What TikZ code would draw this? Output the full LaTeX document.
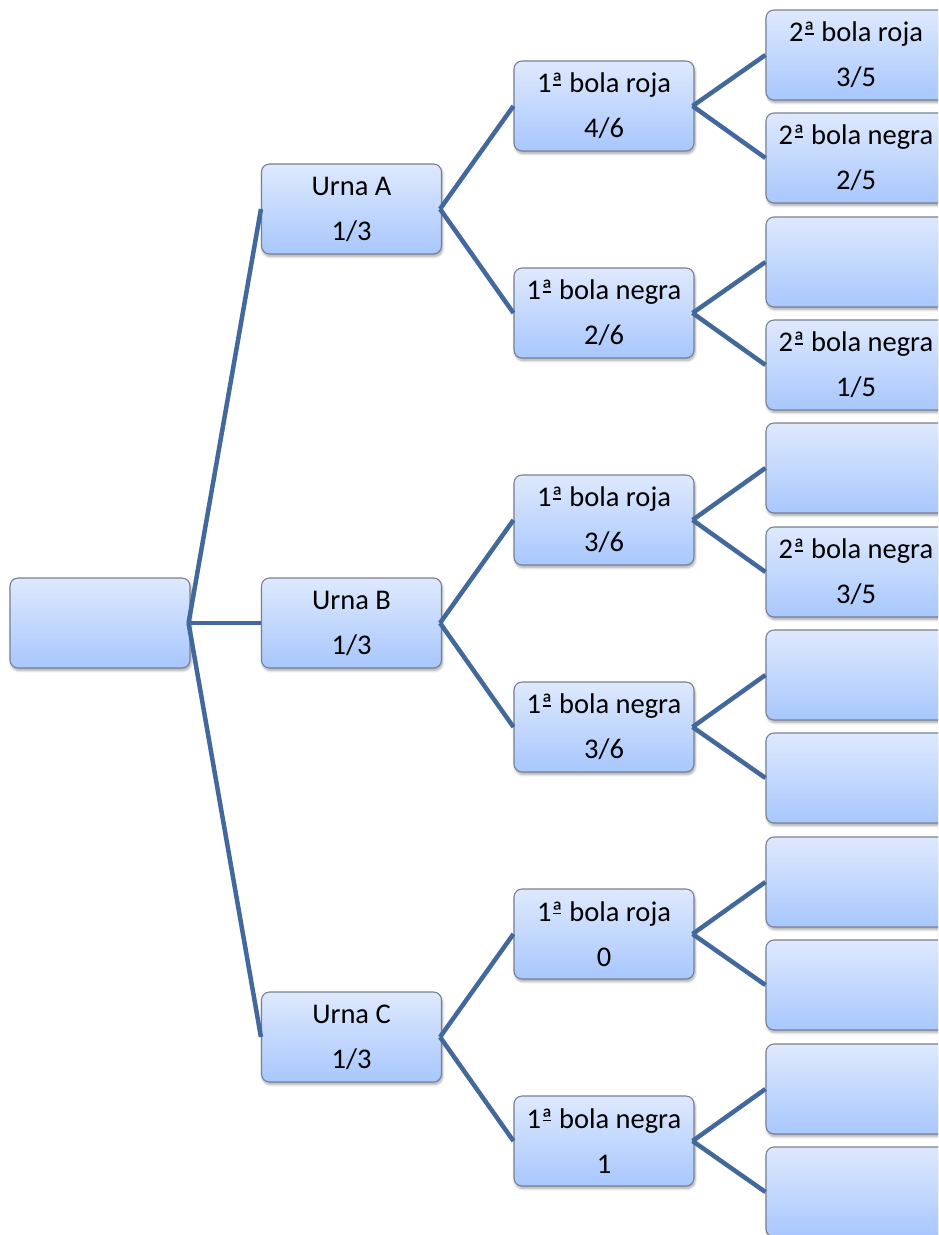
\documentclass[tikz,border=0pt]{standalone}
\usepackage{fontspec}
\setmainfont{Carlito}
\usetikzlibrary{shadows.blur}
\definecolor{topc}{RGB}{222,233,253}
\definecolor{botc}{RGB}{168,199,253}
\definecolor{edgec}{RGB}{120,128,145}
\definecolor{linec}{RGB}{66,104,156}
\newcommand\ordA{\leavevmode\setbox0\hbox{ª}\rlap{\hbox to\wd0{\hss\raisebox{0.25em}{\rule{0.75\wd0}{0.05em}}\hss}}\box0}
\tikzset{
  box/.style={rectangle, rounded corners=8pt, draw=edgec, line width=1.1pt,
    top color=topc, bottom color=botc, minimum width=180pt, minimum height=90pt,
    inner sep=0pt, align=center, font=\fontsize{28.5}{45}\selectfont,
    blur shadow={shadow xshift=1pt, shadow yshift=-2.5pt, shadow blur steps=6, shadow blur radius=2.5pt, shadow opacity=35}},
  conn/.style={draw=linec, line width=4.5pt}
}
\begin{document}
\begin{tikzpicture}[x=1pt,y=-1pt]
\useasboundingbox (0,0) rectangle (938,1235);
\clip (0,0) rectangle (938,1235);
% root
\node[box] (r) at (100,623) {};
% level 1
\node[box] (a) at (351.5,209) {Urna A\\1/3};
\node[box] (b) at (351.5,623) {Urna B\\1/3};
\node[box] (c) at (351.5,1037) {Urna C\\1/3};
% level 2
\node[box] (a1) at (604,106) {1\ordA{} bola roja\\4/6};
\node[box] (a2) at (604,313) {1\ordA{} bola negra\\2/6};
\node[box] (b1) at (604,520) {1\ordA{} bola roja\\3/6};
\node[box] (b2) at (604,727) {1\ordA{} bola negra\\3/6};
\node[box] (c1) at (604,934) {1\ordA{} bola roja\\0};
\node[box] (c2) at (604,1141) {1\ordA{} bola negra\\1};
% level 3
\node[box] (a11) at (856,55) {2\ordA{} bola roja\\3/5};
\node[box] (a12) at (856,158) {2\ordA{} bola negra\\2/5};
\node[box] (a21) at (856,262) {};
\node[box] (a22) at (856,365) {2\ordA{} bola negra\\1/5};
\node[box] (b11) at (856,468) {};
\node[box] (b12) at (856,572) {2\ordA{} bola negra\\3/5};
\node[box] (b21) at (856,675) {};
\node[box] (b22) at (856,778) {};
\node[box] (c11) at (856,882) {};
\node[box] (c12) at (856,985) {};
\node[box] (c21) at (856,1089) {};
\node[box] (c22) at (856,1192) {};
% connectors
\foreach \p/\q in {r/a, r/b, r/c, a/a1, a/a2, b/b1, b/b2, c/c1, c/c2,
  a1/a11, a1/a12, a2/a21, a2/a22, b1/b11, b1/b12, b2/b21, b2/b22,
  c1/c11, c1/c12, c2/c21, c2/c22}
  \draw[conn] ([xshift=-2pt]\p.east) -- (\q.west);
\end{tikzpicture}
\end{document}
